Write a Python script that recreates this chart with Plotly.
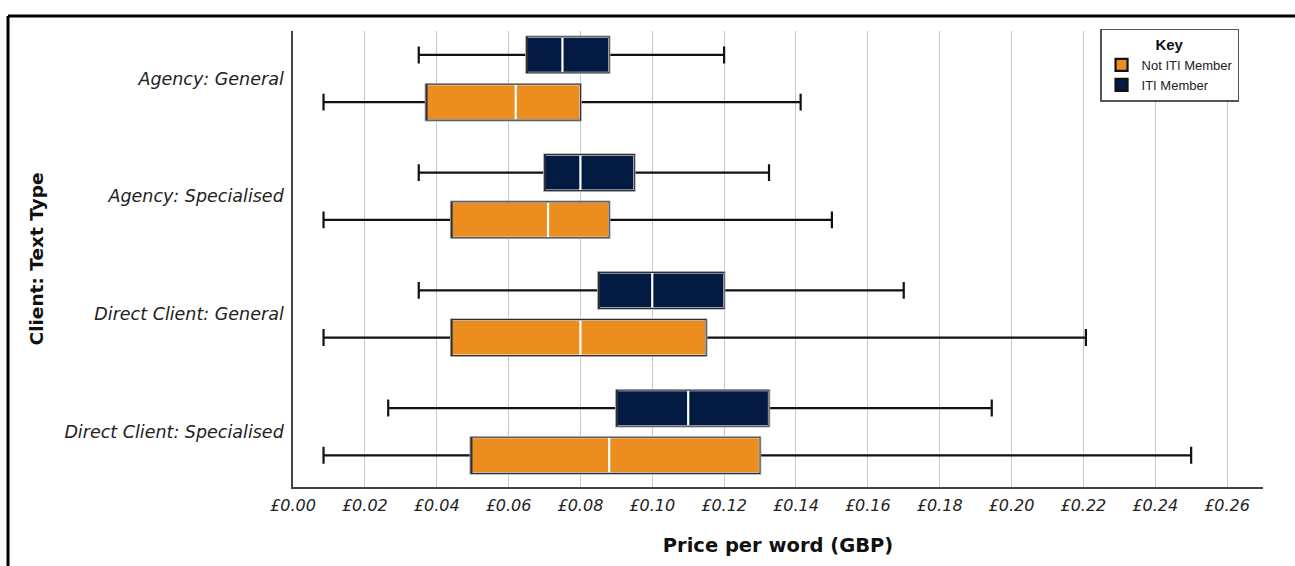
import plotly.graph_objects as go

# Client / text-type groups, top to bottom
categories = [
    "Agency: General",
    "Agency: Specialised",
    "Direct Client: General",
    "Direct Client: Specialised",
]

# Price per word (GBP) summary statistics — ITI members
iti_low = [0.035, 0.035, 0.035, 0.0265]
iti_q1 = [0.065, 0.070, 0.085, 0.090]
iti_median = [0.075, 0.080, 0.100, 0.110]
iti_q3 = [0.088, 0.095, 0.120, 0.1325]
iti_high = [0.120, 0.1325, 0.170, 0.1945]

# Price per word (GBP) summary statistics — not ITI members
not_low = [0.0085, 0.0085, 0.0085, 0.0085]
not_q1 = [0.037, 0.044, 0.044, 0.0495]
not_median = [0.062, 0.071, 0.080, 0.088]
not_q3 = [0.080, 0.088, 0.115, 0.130]
not_high = [0.1413, 0.150, 0.2207, 0.250]

x_ticks = [i / 100 for i in range(0, 27, 2)]
x_tick_labels = [f"£{v:.2f}" for v in x_ticks]

NAVY = "#031A42"
ORANGE = "#EC8D1F"
OUTLINE = "#2a2f3a"

groups = [
    ("ITI Member", "iti", NAVY, iti_low, iti_q1, iti_median, iti_q3, iti_high, 2),
    ("Not ITI Member", "not", ORANGE, not_low, not_q1, not_median, not_q3, not_high, 1),
]

fig = go.Figure()

for name, grp, colour, lo, q1, med, q3, hi, rank in groups:
    common = dict(
        y=categories,
        orientation="h",
        offsetgroup=grp,
        alignmentgroup="all",
        hoverinfo="skip",
        boxpoints=False,
    )
    # whiskers with end caps (black)
    fig.add_trace(go.Box(
        name=name, q1=q1, median=med, q3=q3, lowerfence=lo, upperfence=hi,
        fillcolor=colour, line=dict(color="#111111", width=2.2),
        whiskerwidth=0.47, showlegend=True, legendrank=rank, **common,
    ))
    # filled box with white median line
    fig.add_trace(go.Box(
        name=name, q1=q1, median=med, q3=q3, lowerfence=q1, upperfence=q3,
        fillcolor=colour, line=dict(color="#ffffff", width=2.2),
        whiskerwidth=0, showlegend=False, **common,
    ))
    # thin dark outline around the box
    fig.add_trace(go.Box(
        name=name, q1=q1, median=q1, q3=q3, lowerfence=q1, upperfence=q3,
        fillcolor="rgba(0,0,0,0)", line=dict(color=OUTLINE, width=1.2),
        whiskerwidth=0, showlegend=False, **common,
    ))

fig.update_layout(
    width=1295,
    height=566,
    margin=dict(l=293, r=32, t=31, b=79),
    paper_bgcolor="white",
    plot_bgcolor="white",
    boxmode="group",
    boxgap=0.198,
    boxgroupgap=0.237,
    font=dict(family="DejaVu Sans", color="#1a1a1a"),
    xaxis=dict(
        range=[0, 0.27],
        tickvals=x_ticks,
        ticktext=x_tick_labels,
        tickfont=dict(family="DejaVu Sans", size=16, style="italic", color="#222222"),
        showgrid=True,
        gridcolor="#c9c9c9",
        gridwidth=1.3,
        zeroline=False,
        showline=True,
        linecolor="#444444",
        linewidth=1.5,
        ticks="",
        ticklabelstandoff=3,
        title=dict(
            text="Price per word (GBP)",
            font=dict(family="DejaVu Sans", size=19.5, weight="bold", color="#111111"),
            standoff=24,
        ),
    ),
    yaxis=dict(
        type="category",
        categoryorder="array",
        categoryarray=categories,
        range=[3.47, -0.404],
        tickfont=dict(family="DejaVu Sans", size=17.5, style="italic", color="#222222"),
        showgrid=False,
        zeroline=False,
        showline=True,
        linecolor="#444444",
        linewidth=1.5,
        ticks="",
        ticklabelstandoff=4,
        title=dict(
            text="Client: Text Type",
            font=dict(family="DejaVu Sans", size=18.5, weight="bold", color="#111111"),
            standoff=16,
        ),
    ),
    legend=dict(
        x=0.9753,
        y=1.0044,
        xanchor="right",
        yanchor="top",
        bgcolor="white",
        bordercolor="#555555",
        borderwidth=1.5,
        font=dict(family="Liberation Sans", size=13, color="#222222"),
        title=dict(
            text="Key",
            side="top center",
            font=dict(family="Liberation Sans", size=15, weight="bold", color="#111111"),
        ),
        itemwidth=30,
        tracegroupgap=0,
    ),
    shapes=[
        # frame lines along the top and left edges of the figure
        dict(type="line", xref="paper", yref="paper",
             x0=-0.2938, x1=1.04, y0=1.0329, y1=1.0329,
             line=dict(color="black", width=3)),
        dict(type="line", xref="paper", yref="paper",
             x0=-0.2938, x1=-0.2938, y0=1.0329, y1=-0.19,
             line=dict(color="black", width=3)),
    ],
)

fig.write_html("out.html")
